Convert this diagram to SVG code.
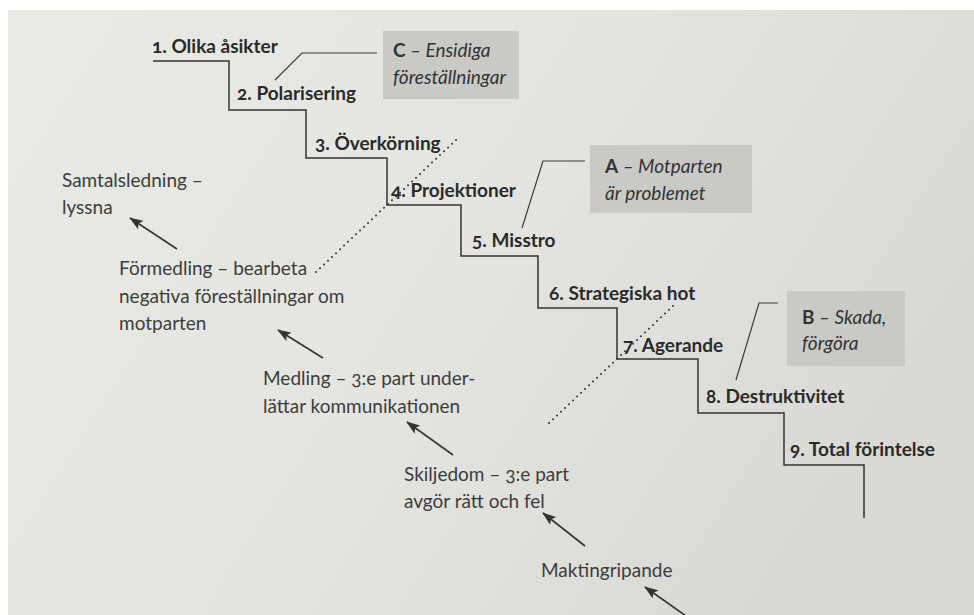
<svg xmlns="http://www.w3.org/2000/svg" width="974" height="615" viewBox="0 0 974 615">
<defs>
<linearGradient id="paper" x1="0" y1="0" x2="1" y2="0.4">
<stop offset="0" stop-color="#e9eae6"/>
<stop offset="0.55" stop-color="#e4e5e1"/>
<stop offset="1" stop-color="#d9dad6"/>
</linearGradient>
<marker id="ah" viewBox="0 0 14 10" refX="13" refY="5" markerWidth="14" markerHeight="10" markerUnits="userSpaceOnUse" orient="auto">
<path d="M0,0 L14,5 L0,10 L3,5 Z" fill="#333"/>
</marker>
<style>
.step{font-family:Lato,"Liberation Sans",sans-serif;font-weight:700;font-size:19px;fill:#2a2a2a;font-variant-numeric:oldstyle-nums}
.note{font-family:Lato,"Liberation Sans",sans-serif;font-size:19px;fill:#3c3c3c;font-variant-numeric:oldstyle-nums}
.box{fill:#c9cac6}
.bt{font-family:Lato,"Liberation Sans",sans-serif;font-size:19px;fill:#333;font-style:italic}
.bl{font-style:normal;font-weight:700}
.line{fill:none;stroke:#333;stroke-width:1.5}
.thin{fill:none;stroke:#3a3a3a;stroke-width:1.2}
.dots{fill:none;stroke:#333;stroke-width:2;stroke-linecap:round;stroke-dasharray:0 5.5}
.arr{fill:none;stroke:#333;stroke-width:1.6;marker-end:url(#ah)}
</style>
</defs>
<rect width="974" height="615" fill="#ffffff"/>
<rect x="8" y="10" width="966" height="605" fill="url(#paper)"/>

<g id="connectors">
<path class="line" d="M153,61 H229 V110 H306 V158 H387 V205 H461 V256 H538 V308 H617 V359 H698 V413 H784 V465 H864 V518"/>
<polyline class="thin" points="275,80 302,53 377,53"/>
<polyline class="thin" points="522,228 543,161 585,161"/>
<polyline class="thin" points="736,380 759,303 778,303"/>
<line class="dots" x1="316" y1="272" x2="457" y2="139"/>
<line class="dots" x1="673" y1="306" x2="548" y2="424"/>
<line class="arr" x1="177" y1="249" x2="130" y2="218"/>
<line class="arr" x1="323" y1="358" x2="278" y2="330"/>
<line class="arr" x1="453" y1="455" x2="407" y2="422"/>
<line class="arr" x1="585" y1="546" x2="543" y2="513"/>
<line class="arr" x1="686" y1="616" x2="645" y2="587"/>
</g>

<g id="step1"><text class="step" x="152" y="53">1. Olika åsikter</text></g>
<g id="step2"><text class="step" x="237" y="100">2. Polarisering</text></g>
<g id="step3"><text class="step" x="315" y="150">3. Överkörning</text></g>
<g id="step4"><text class="step" x="391" y="197">4. Projektioner</text></g>
<g id="step5"><text class="step" x="472" y="247">5. Misstro</text></g>
<g id="step6"><text class="step" x="549" y="300">6. Strategiska hot</text></g>
<g id="step7"><text class="step" x="623" y="352">7. Agerande</text></g>
<g id="step8"><text class="step" x="706" y="403">8. Destruktivitet</text></g>
<g id="step9"><text class="step" x="790" y="456">9. Total förintelse</text></g>

<g id="boxC">
<rect class="box" x="383" y="31" width="136" height="68"/>
<text class="bt" x="393" y="57"><tspan class="bl">C</tspan> – Ensidiga</text>
<text class="bt" x="393" y="84">föreställningar</text>
</g>
<g id="boxA">
<rect class="box" x="590" y="145" width="162" height="68"/>
<text class="bt" x="605" y="173"><tspan class="bl">A</tspan> – Motparten</text>
<text class="bt" x="605" y="200">är problemet</text>
</g>
<g id="boxB">
<rect class="box" x="787" y="291" width="118" height="75"/>
<text class="bt" x="802" y="324"><tspan class="bl">B</tspan> – Skada,</text>
<text class="bt" x="802" y="350">förgöra</text>
</g>

<g id="samtalsledning">
<text class="note" x="62" y="187">Samtalsledning –</text>
<text class="note" x="62" y="214">lyssna</text>
</g>
<g id="formedling">
<text class="note" x="119" y="275">Förmedling – bearbeta</text>
<text class="note" x="119" y="303">negativa föreställningar om</text>
<text class="note" x="119" y="330">motparten</text>
</g>
<g id="medling">
<text class="note" x="263" y="385">Medling – 3:e part under-</text>
<text class="note" x="263" y="413">lättar kommunikationen</text>
</g>
<g id="skiljedom">
<text class="note" x="404" y="481">Skiljedom – 3:e part</text>
<text class="note" x="404" y="508">avgör rätt och fel</text>
</g>
<g id="maktingripande">
<text class="note" x="541" y="577">Maktingripande</text>
</g>
</svg>
